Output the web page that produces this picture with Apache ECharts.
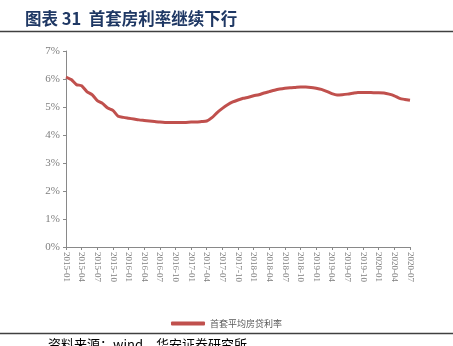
<!DOCTYPE html>
<html><head><meta charset="utf-8">
<script src="https://cdn.jsdelivr.net/npm/echarts@6/dist/echarts.min.js"></script>
<style>html,body{margin:0;padding:0;background:#fff}#c{width:453px;height:346px}</style>
</head><body><div id="c"></div>
<script>
// Monthly categories 2015-01 .. 2020-07
var categories = [];
for (var y = 2015; y <= 2020; y++) {
  for (var m = 1; m <= 12; m++) {
    if (y === 2020 && m > 7) break;
    categories.push(y + '-' + (m < 10 ? '0' + m : m));
  }
}
var seriesName = '首套平均房贷利率';
var rateValues = [
  6.07, 5.98, 5.80, 5.76, 5.55, 5.44, 5.23, 5.13, 4.96, 4.88, 4.67, 4.63,
  4.60, 4.57, 4.54, 4.52, 4.50, 4.48, 4.46, 4.45, 4.45, 4.45, 4.45, 4.45,
  4.46, 4.46, 4.48, 4.50, 4.62, 4.80, 4.95, 5.08, 5.18, 5.25, 5.31, 5.35,
  5.40, 5.44, 5.50, 5.55, 5.60, 5.64, 5.67, 5.69, 5.70, 5.71, 5.71, 5.70,
  5.67, 5.63, 5.56, 5.48, 5.43, 5.44, 5.46, 5.49, 5.52, 5.52, 5.52, 5.51,
  5.51, 5.50, 5.46, 5.40, 5.31, 5.27, 5.24
];
var yTicks = [0, 1, 2, 3, 4, 5, 6, 7];
var titleText = '图表 31  首套房利率继续下行';
var sourceText = '资料来源：wind，华安证券研究所';

var chart = echarts.init(document.getElementById('c'), null, {renderer: 'canvas'});
chart.setOption({
  animation: false,
  backgroundColor: '#fff',
  graphic: [
    {type: 'text', left: 25, top: 10, style: {text: titleText, font: 'bold 16.5px "Noto Sans CJK SC"', fill: '#1F3864'}},
    {type: 'line', shape: {x1: 0, y1: 31.5, x2: 453, y2: 31.5}, style: {stroke: '#404040', lineWidth: 1.5}},
    {type: 'line', shape: {x1: 0, y1: 333.5, x2: 453, y2: 333.5}, style: {stroke: '#404040', lineWidth: 1.5}},
    {type: 'text', left: 48, top: 338, style: {text: sourceText, font: '13px "Noto Sans CJK SC"', fill: '#000'}}
  ],
  legend: {
    data: [seriesName],
    left: 'center',
    top: 314,
    itemWidth: 34,
    itemHeight: 4,
    icon: 'roundRect',
    textStyle: {fontFamily: '"Noto Sans CJK SC"', fontSize: 9, color: '#595959'}
  },
  grid: {left: 66, right: 43, top: 51, bottom: 99, containLabel: false},
  xAxis: {
    type: 'category',
    data: categories,
    boundaryGap: false,
    axisLine: {lineStyle: {color: '#898989', width: 1}},
    axisTick: {interval: 2, length: 3, lineStyle: {color: '#898989'}},
    axisLabel: {interval: 2, rotate: -90, fontFamily: '"Liberation Serif"', fontSize: 9, color: '#7f7f7f', margin: 5},
    splitLine: {show: false}
  },
  yAxis: {
    type: 'value',
    min: yTicks[0],
    max: yTicks[yTicks.length - 1],
    interval: 1,
    axisLine: {show: true, lineStyle: {color: '#898989', width: 1}},
    axisTick: {show: true, inside: false, length: 3, lineStyle: {color: '#898989'}},
    axisLabel: {formatter: '{value}%', fontFamily: '"Liberation Serif"', fontSize: 11, color: '#7f7f7f', margin: 6},
    splitLine: {show: false}
  },
  series: [{
    name: seriesName,
    type: 'line',
    data: rateValues,
    showSymbol: false,
    symbol: 'none',
    smooth: 0.2,
    lineStyle: {color: '#C0504D', width: 3},
    itemStyle: {color: '#C0504D'}
  }]
});
</script></body></html>
